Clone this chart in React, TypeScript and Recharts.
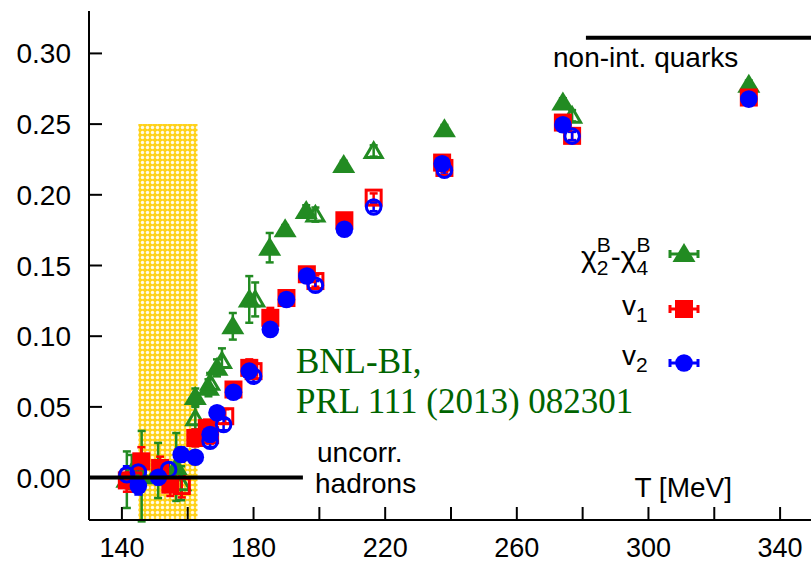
import React from "react"
import {
  ComposedChart,
  Scatter,
  ErrorBar,
  XAxis,
  YAxis,
  ReferenceArea,
  ReferenceLine,
} from "recharts"

// chi_2^B - chi_4^B
const T_CHI_FILLED = [141.5, 146, 151, 156.5, 162.3, 166.3, 168.9, 173.7, 178.7, 184.9, 189.6, 196, 207.4, 238, 274, 330.5]
const CHI_FILLED = [-0.0015, 0.001, 0.005, 0.0075, 0.057, 0.0635, 0.0776, 0.107, 0.126, 0.1626, 0.1756, 0.1886, 0.221, 0.2464, 0.2653, 0.2778]
const CHI_FILLED_ERR = [0.02, 0.032, 0.0195, 0.024, 0.006, 0.006, 0.006, 0.0094, 0.0165, 0.0104, 0.003, 0.004, 0.003, 0.003, 0.003, 0.003]

const T_CHI_OPEN = [143, 158, 162.3, 166.8, 170.4, 180.5, 198.8, 216.5, 276.8]
const CHI_OPEN = [0.004, -0.004, 0.042, 0.067, 0.0824, 0.126, 0.186, 0.231, 0.2559]
const CHI_OPEN_ERR = [0.012, 0.012, 0.008, 0.007, 0.009, 0.012, 0.005, 0.004, 0.004]

// v1
const T_V1_FILLED = [141.5, 145.9, 151.6, 154.7, 162.3, 165.8, 173.9, 178.7, 185.1, 190, 196.2, 207.6, 237.3, 274, 330.5]
const V1_FILLED = [-0.002, 0.0115, 0.0068, -0.005, 0.028, 0.035, 0.0623, 0.0776, 0.113, 0.127, 0.1438, 0.182, 0.2228, 0.2511, 0.2688]
const V1_FILLED_ERR = [0.008, 0.01, 0.008, 0.008, 0.006, 0.006, 0.005, 0.006, 0.007, 0.003, 0.004, 0.003, 0.003, 0.003, 0.003]

const T_V1_OPEN = [143.5, 158.2, 166.8, 171.4, 180, 198.8, 216.5, 238, 276.8]
const V1_OPEN = [-0.002, -0.006, 0.03, 0.0434, 0.0753, 0.139, 0.198, 0.219, 0.2417]
const V1_OPEN_ERR = [0.008, 0.008, 0.006, 0.005, 0.005, 0.004, 0.003, 0.003, 0.003]

// v2
const T_V2_FILLED = [145, 151.1, 158, 162.3, 166.8, 168.9, 173.9, 178.7, 185.1, 190, 196.2, 207.6, 237.3, 274, 330.5]
const V2_FILLED = [-0.006, 0.0002, 0.0163, 0.0144, 0.0305, 0.0458, 0.0604, 0.0753, 0.1048, 0.126, 0.1426, 0.1756, 0.222, 0.2495, 0.2677]
const V2_FILLED_ERR = [0.006, 0.005, 0.005, 0.004, 0.004, 0.004, 0.004, 0.004, 0.004, 0.003, 0.003, 0.003, 0.003, 0.003, 0.003]

const T_V2_OPEN = [141.5, 145, 154.2, 166.8, 170.9, 180, 198.8, 216.5, 238, 276.8]
const V2_OPEN = [0.002, 0.004, 0.0057, 0.0257, 0.0375, 0.0717, 0.136, 0.1914, 0.2174, 0.2415]
const V2_OPEN_ERR = [0.006, 0.006, 0.005, 0.004, 0.004, 0.004, 0.003, 0.003, 0.003, 0.003]

// crossover band and limits
const TC = 154
const TC_ERR = 9
const BAND_TOP = 0.25
const HADRON_LIMIT = 0
const HADRON_T_END = 195
const QUARK_LIMIT = 0.311
const QUARK_T_START = 281

const X_DOMAIN = [130, 350]
const Y_DOMAIN = [-0.03, 0.33]
const X_TICKS = [140, 160, 180, 200, 220, 240, 260, 280, 300, 320, 340]
const Y_TICKS = [0, 0.05, 0.1, 0.15, 0.2, 0.25, 0.3]

const GREEN = "#228B22"
const RED = "#FF0000"
const BLUE = "#0000FF"
const FONT = "'Liberation Sans', Arial, sans-serif"

const toRows = (ts: number[], ys: number[], es: number[]) =>
  ts.map((T, i) => ({ T, y: ys[i], err: es[i] }))

const chiFilled = toRows(T_CHI_FILLED, CHI_FILLED, CHI_FILLED_ERR)
const chiOpen = toRows(T_CHI_OPEN, CHI_OPEN, CHI_OPEN_ERR)
const v1Filled = toRows(T_V1_FILLED, V1_FILLED, V1_FILLED_ERR)
const v1Open = toRows(T_V1_OPEN, V1_OPEN, V1_OPEN_ERR)
const v2Filled = toRows(T_V2_FILLED, V2_FILLED, V2_FILLED_ERR)
const v2Open = toRows(T_V2_OPEN, V2_OPEN, V2_OPEN_ERR)

const triangle = (cx: number, cy: number) =>
  `${cx},${cy - 11} ${cx - 11.5},${cy + 8} ${cx + 11.5},${cy + 8}`

const TriFilled = ({ cx, cy }: any) => <polygon points={triangle(cx, cy)} fill={GREEN} />
const TriOpen = ({ cx, cy }: any) => (
  <polygon points={`${cx},${cy - 8} ${cx - 8.5},${cy + 6.5} ${cx + 8.5},${cy + 6.5}`} fill="none" stroke={GREEN} strokeWidth={3} />
)
const SqFilled = ({ cx, cy }: any) => <rect x={cx - 9} y={cy - 9} width={18} height={18} fill={RED} />
const SqOpen = ({ cx, cy }: any) => (
  <rect x={cx - 7.5} y={cy - 7.5} width={15} height={15} fill="none" stroke={RED} strokeWidth={3} />
)
const CircFilled = ({ cx, cy }: any) => <circle cx={cx} cy={cy} r={8.8} fill={BLUE} />
const CircOpen = ({ cx, cy }: any) => (
  <circle cx={cx} cy={cy} r={7.3} fill="none" stroke={BLUE} strokeWidth={3} />
)

const BottomTick = ({ x, y, payload }: any) => {
  const v = payload.value
  return (
    <g>
      <line x1={x} x2={x} y1={y} y2={y - 13} stroke="#000" strokeWidth={2} />
      {(v - 140) % 40 === 0 && (
        <text x={x} y={y + 37} textAnchor="middle" fontSize={27} fontFamily={FONT} fill="#000">
          {v}
        </text>
      )}
    </g>
  )
}
const TopTick = ({ x, y }: any) => (
  <line x1={x} x2={x} y1={y} y2={y + 13} stroke="#000" strokeWidth={2} />
)
const LeftTick = ({ x, y, payload }: any) => (
  <g>
    <line x1={x} x2={x + 13} y1={y} y2={y} stroke="#000" strokeWidth={2} />
    <text x={x - 18} y={y + 10} textAnchor="end" fontSize={28} fontFamily={FONT} fill="#000">
      {payload.value.toFixed(2)}
    </text>
  </g>
)
const RightTick = ({ x, y }: any) => (
  <line x1={x} x2={x - 13} y1={y} y2={y} stroke="#000" strokeWidth={2} />
)

const KeySample = ({ y, color, children }: any) => (
  <g>
    <line x1={670} x2={698} y1={y} y2={y} stroke={color} strokeWidth={3} />
    <line x1={670} x2={670} y1={y - 4} y2={y + 4} stroke={color} strokeWidth={3} />
    <line x1={698} x2={698} y1={y - 4} y2={y + 4} stroke={color} strokeWidth={3} />
    {children}
  </g>
)

export default function App() {
  const txt = { fontFamily: FONT, fontSize: 28, fill: "#000" }
  return (
    <div style={{ position: "absolute", left: 0, top: 0, width: 811, height: 563, overflow: "hidden", background: "#fff" }}>
      <ComposedChart width={820} height={563} margin={{ top: 11, right: 7, bottom: 0, left: 0 }}>
        <defs>
          <pattern id="hatch" width="5" height="5" patternUnits="userSpaceOnUse">
            <rect width="5" height="5" fill="#FFD21A" />
            <circle cx="2.5" cy="2.5" r="1.7" fill="#FFFBE6" />
          </pattern>
        </defs>
        <XAxis
          dataKey="T"
          type="number"
          domain={X_DOMAIN}
          ticks={X_TICKS}
          interval={0}
          allowDataOverflow
          height={43}
          tickSize={0}
          tickMargin={0}
          tickLine={false}
          axisLine={{ stroke: "#000", strokeWidth: 2 }}
          tick={<BottomTick />}
        />
        <XAxis
          xAxisId="top"
          orientation="top"
          type="number"
          domain={X_DOMAIN}
          ticks={X_TICKS}
          interval={0}
          allowDataOverflow
          height={0}
          tickSize={0}
          tickMargin={0}
          tickLine={false}
          axisLine={{ stroke: "#000", strokeWidth: 2 }}
          tick={<TopTick />}
        />
        <YAxis
          dataKey="y"
          type="number"
          domain={Y_DOMAIN}
          ticks={Y_TICKS}
          interval={0}
          allowDataOverflow
          width={89}
          tickSize={0}
          tickMargin={0}
          tickLine={false}
          axisLine={{ stroke: "#000", strokeWidth: 2 }}
          tick={<LeftTick />}
        />
        <YAxis
          yAxisId="right"
          orientation="right"
          type="number"
          domain={Y_DOMAIN}
          ticks={Y_TICKS}
          interval={0}
          allowDataOverflow
          width={0}
          tickSize={0}
          tickMargin={0}
          tickLine={false}
          axisLine={{ stroke: "#000", strokeWidth: 2 }}
          tick={<RightTick />}
        />
        <ReferenceArea
          x1={TC - TC_ERR}
          x2={TC + TC_ERR}
          y1={Y_DOMAIN[0]}
          y2={BAND_TOP}
          fill="url(#hatch)"
          fillOpacity={1}
          stroke="none"
        />
        <Scatter data={chiFilled} dataKey="y" shape={<TriFilled />} isAnimationActive={false}>
          <ErrorBar dataKey="err" direction="y" stroke={GREEN} strokeWidth={2.5} width={4} isAnimationActive={false} />
        </Scatter>
        <Scatter data={chiOpen} dataKey="y" shape={<TriOpen />} isAnimationActive={false}>
          <ErrorBar dataKey="err" direction="y" stroke={GREEN} strokeWidth={2.5} width={4} isAnimationActive={false} />
        </Scatter>
        <Scatter data={v1Filled} dataKey="y" shape={<SqFilled />} isAnimationActive={false}>
          <ErrorBar dataKey="err" direction="y" stroke={RED} strokeWidth={2.5} width={4} isAnimationActive={false} />
        </Scatter>
        <Scatter data={v1Open} dataKey="y" shape={<SqOpen />} isAnimationActive={false}>
          <ErrorBar dataKey="err" direction="y" stroke={RED} strokeWidth={2.5} width={4} isAnimationActive={false} />
        </Scatter>
        <Scatter data={v2Filled} dataKey="y" shape={<CircFilled />} isAnimationActive={false}>
          <ErrorBar dataKey="err" direction="y" stroke={BLUE} strokeWidth={2.5} width={4} isAnimationActive={false} />
        </Scatter>
        <Scatter data={v2Open} dataKey="y" shape={<CircOpen />} isAnimationActive={false}>
          <ErrorBar dataKey="err" direction="y" stroke={BLUE} strokeWidth={2.5} width={4} isAnimationActive={false} />
        </Scatter>
        <ReferenceLine
          segment={[{ x: X_DOMAIN[0], y: HADRON_LIMIT }, { x: HADRON_T_END, y: HADRON_LIMIT }]}
          stroke="#000"
          strokeWidth={4}
          zIndex={700}
        />
        <ReferenceLine
          segment={[{ x: QUARK_T_START, y: QUARK_LIMIT }, { x: X_DOMAIN[1], y: QUARK_LIMIT }]}
          stroke="#000"
          strokeWidth={4}
          zIndex={700}
        />
      </ComposedChart>
      <svg width={811} height={563} style={{ position: "absolute", left: 0, top: 0, pointerEvents: "none" }}>
        <text x={553} y={67} {...txt}>non-int. quarks</text>
        <text x={317} y={462} {...txt}>uncorr.</text>
        <text x={315} y={493} {...txt}>hadrons</text>
        <text x={732} y={497} textAnchor="end" {...txt}>T [MeV]</text>
        <text x={296} y={373} fontFamily="'Liberation Serif', 'Times New Roman', serif" fontSize={35} fill="#006400">
          BNL-BI,
        </text>
        <text x={296} y={413} fontFamily="'Liberation Serif', 'Times New Roman', serif" fontSize={35} fill="#006400">
          PRL 111 (2013) 082301
        </text>
        <KeySample y={254} color={GREEN}>
          <polygon points={triangle(684, 254)} fill={GREEN} />
        </KeySample>
        <KeySample y={309} color={RED}>
          <rect x={675} y={300} width={18} height={18} fill={RED} />
        </KeySample>
        <KeySample y={363} color={BLUE}>
          <circle cx={684} cy={363} r={8.8} fill={BLUE} />
        </KeySample>
        <text x={581} y={267} fontFamily={FONT} fontSize={30} fill="#000">
          χ<tspan fontSize={21} dy={8}>2</tspan>
          <tspan fontSize={21} dx={-11.7} dy={-23}>B</tspan>
          <tspan dy={15}>-χ</tspan>
          <tspan fontSize={21} dy={8}>4</tspan>
          <tspan fontSize={21} dx={-11.7} dy={-23}>B</tspan>
        </text>
        <text x={622} y={315} {...txt}>
          v<tspan fontSize={21} dy={7}>1</tspan>
        </text>
        <text x={622} y={365} {...txt}>
          v<tspan fontSize={21} dy={7}>2</tspan>
        </text>
      </svg>
    </div>
  )
}
